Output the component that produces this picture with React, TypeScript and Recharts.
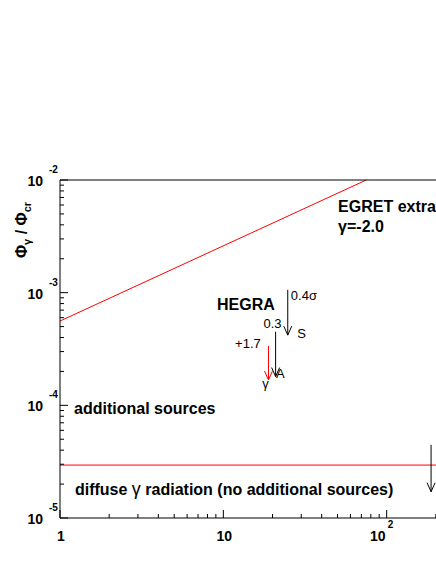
import React from 'react';
import { LineChart, Line, XAxis, YAxis, ReferenceDot } from 'recharts';

const FONT = '"Liberation Sans", Arial, Helvetica, sans-serif';

// log axes: decades + minor steps
const xMajor = [1, 10, 100, 1000];
const xMajorBase = ['1', '10', '10', ''];
const xMajorExp = ['', '', '2', ''];
const yMajor = [1e-5, 1e-4, 1e-3, 1e-2];
const yMajorExp = ['-5', '-4', '-3', '-2'];
const minorSteps = [2, 3, 4, 5, 6, 7, 8, 9];

const xTicks = [...xMajor, ...xMajor.slice(0, -1).flatMap((d) => minorSteps.map((m) => d * m))];
const yTicks = [...yMajor, ...yMajor.slice(0, -1).flatMap((d) => minorSteps.map((m) => d * m))];

// EGRET extrapolation (gamma = -2.0)
const egretX = [1, 75];
const egretY = [5.6e-4, 1e-2];

// diffuse gamma radiation level
const diffuseX = [1, 1000];
const diffuseY = [2.95e-5, 2.95e-5];

// upper limits (arrows): S, A, gamma (HEGRA) and the one at the right
const limitX = [24.8, 20.9, 18.9, 187];
const limitFrom = [1.06e-3, 4.5e-4, 3.37e-4, 4.46e-5];
const limitTo = [4.2e-4, 1.8e-4, 1.68e-4, 1.71e-5];
const limitColor = ['#000', '#000', '#ff0000', '#000'];

// annotations, in data coordinates
const noteText = ['EGRET extrapolation', 'γ=-2.0', 'HEGRA', 'additional sources', 'diffuse γ radiation (no additional sources)'];
const noteX = [50.4, 50.4, 9.15, 1.22, 1.235];
const noteY = [5.2e-3, 3.46e-3, 7.0e-4, 8.4e-5, 1.6e-5];

const smallText = ['0.4σ', 'S', '0.3', 'A', '+1.7', 'γ'];
const smallX = [25.9, 28.3, 17.6, 21.0, 11.8, 17.3];
const smallY = [8.6e-4, 3.96e-4, 4.86e-4, 1.75e-4, 3.23e-4, 1.43e-4];

const toPts = (xs: number[], ys: number[]) => xs.map((x, i) => ({ x, y: ys[i] }));

const majorIndex = (list: number[], v: number) => list.findIndex((m) => Math.abs(m - v) / m < 1e-6);

const YTick = (props: any) => {
  const { x, y, payload } = props;
  const i = majorIndex(yMajor, payload.value);
  const len = i >= 0 ? 8 : 4;
  return (
    <g>
      <line x1={x} x2={x + len} y1={y} y2={y} stroke="#000" />
      {i >= 0 && (
        <>
          <text x={x - 17} y={y + 6} textAnchor="end" fontFamily={FONT} fontWeight="bold" fontSize={14} fill="#000">
            10
          </text>
          <text x={x - 11} y={y - 7} fontFamily={FONT} fontWeight="bold" fontSize={10} fill="#000">
            {yMajorExp[i]}
          </text>
        </>
      )}
    </g>
  );
};

const XTick = (props: any) => {
  const { x, y, payload } = props;
  const i = majorIndex(xMajor, payload.value);
  const len = i >= 0 ? 8 : 4;
  const base = i >= 0 ? xMajorBase[i] : '';
  const exp = i >= 0 ? xMajorExp[i] : '';
  return (
    <g>
      <line x1={x} x2={x} y1={y} y2={y - len} stroke="#000" />
      {base && (
        <text
          x={exp ? x - 1 : x + 1}
          y={y + 23}
          textAnchor={exp ? 'end' : 'middle'}
          fontFamily={FONT}
          fontWeight="bold"
          fontSize={14}
          fill="#000"
        >
          {base}
        </text>
      )}
      {exp && (
        <text x={x + 1} y={y + 10} fontFamily={FONT} fontWeight="bold" fontSize={10} fill="#000">
          {exp}
        </text>
      )}
    </g>
  );
};

const TopTick = (props: any) => {
  const { x, y, payload } = props;
  const len = majorIndex(xMajor, payload.value) >= 0 ? 8 : 4;
  return <line x1={x} x2={x} y1={y} y2={y + len} stroke="#000" />;
};

const YTitle = (props: any) => {
  const { x, y } = props.viewBox;
  const cx = x + 19;
  const cy = y + 50;
  return (
    <text
      x={cx}
      y={cy}
      transform={`rotate(-90, ${cx}, ${cy})`}
      textAnchor="middle"
      fontFamily={FONT}
      fontWeight="bold"
      fontSize={16}
      fill="#000"
    >
      Φ<tspan dy={4} fontSize={11}>γ</tspan>
      <tspan dy={-4}> / Φ</tspan>
      <tspan dy={4} fontSize={11}>cr</tspan>
    </text>
  );
};

const arrowDot = (color: string) => (p: any) => {
  if (p.index !== 1) return <g key={`a${p.index}`} />;
  const { cx, cy } = p;
  return (
    <path
      key={`a${p.index}`}
      d={`M${cx - 4},${cy - 9} L${cx},${cy} L${cx + 4},${cy - 9}`}
      fill="none"
      stroke={color}
      strokeWidth={1}
    />
  );
};

export default function App() {
  return (
    <div style={{ position: 'fixed', left: 0, top: 0, width: 436, height: 564, overflow: 'hidden', background: '#fff' }}>
      <LineChart width={560} height={548} margin={{ top: 179, right: 10, bottom: 0, left: 8 }}>
        <XAxis
          dataKey="x"
          type="number"
          scale="log"
          domain={[1, 1000]}
          ticks={xTicks}
          interval={0}
          tickSize={0}
          tickMargin={0}
          tickLine={false}
          tick={<XTick />}
          axisLine={{ stroke: '#000' }}
          height={30}
        />
        <XAxis
          xAxisId="top"
          orientation="top"
          dataKey="x"
          type="number"
          scale="log"
          domain={[1, 1000]}
          ticks={xTicks}
          interval={0}
          tickSize={0}
          tickMargin={0}
          tickLine={false}
          tick={<TopTick />}
          axisLine={{ stroke: '#000' }}
          height={1}
        />
        <YAxis
          type="number"
          scale="log"
          domain={[1e-5, 1e-2]}
          ticks={yTicks}
          interval={0}
          tickSize={0}
          tickMargin={0}
          tickLine={false}
          tick={<YTick />}
          axisLine={{ stroke: '#000' }}
          width={52}
          label={YTitle}
        />
        <Line
          data={toPts(egretX, egretY)}
          dataKey="y"
          stroke="#ff0000"
          strokeWidth={1}
          dot={false}
          activeDot={false}
          isAnimationActive={false}
        />
        <Line
          data={toPts(diffuseX, diffuseY)}
          dataKey="y"
          stroke="#ff0000"
          strokeWidth={1}
          dot={false}
          activeDot={false}
          isAnimationActive={false}
        />
        {limitX.map((x, i) => (
          <Line
            key={`lim${i}`}
            data={[
              { x, y: limitFrom[i] },
              { x, y: limitTo[i] },
            ]}
            dataKey="y"
            stroke={limitColor[i]}
            strokeWidth={1}
            dot={arrowDot(limitColor[i])}
            activeDot={false}
            isAnimationActive={false}
          />
        ))}
        {noteText.map((t, i) => (
          <ReferenceDot
            key={`n${i}`}
            x={noteX[i]}
            y={noteY[i]}
            r={0}
            ifOverflow="visible"
            shape={(p: any) => (
              <text x={p.cx} y={p.cy} fontFamily={FONT} fontWeight="bold" fontSize={16} fill="#000">
                {t.includes('γ') && t.length > 10 ? (
                  <>
                    {t.split('γ')[0]}
                    <tspan fontWeight="normal" fontSize={18}>γ</tspan>
                    {t.split('γ')[1]}
                  </>
                ) : (
                  t
                )}
              </text>
            )}
          />
        ))}
        {smallText.map((t, i) => (
          <ReferenceDot
            key={`s${i}`}
            x={smallX[i]}
            y={smallY[i]}
            r={0}
            ifOverflow="visible"
            shape={(p: any) => (
              <text x={p.cx} y={p.cy} fontFamily={FONT} fontSize={13} fill="#000">
                {t}
              </text>
            )}
          />
        ))}
      </LineChart>
    </div>
  );
}
